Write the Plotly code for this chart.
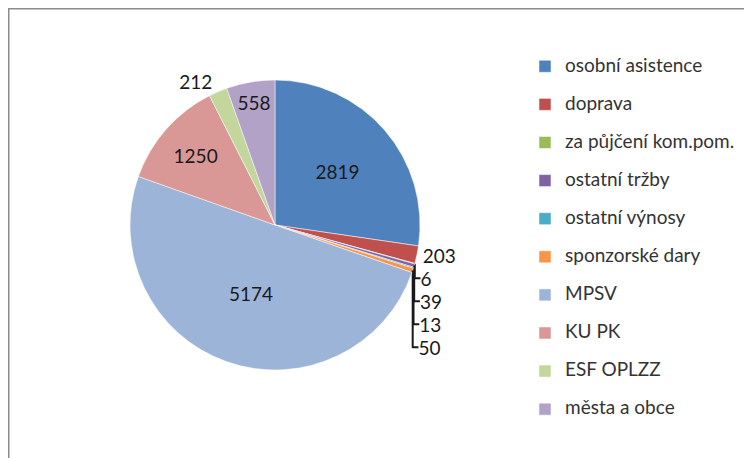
import plotly.graph_objects as go

categories = ["osobní asistence", "doprava", "za půjčení kom.pom.", "ostatní tržby",
              "ostatní výnosy", "sponzorské dary", "MPSV", "KU PK", "ESF OPLZZ", "města a obce"]
values = [2819, 203, 6, 39, 13, 50, 5174, 1250, 212, 558]
colors = ["#4F81BD", "#C0504D", "#9BBB59", "#8064A2", "#4BACC6", "#F79646",
          "#9DB4D9", "#D99796", "#C3D69B", "#B3A2C7"]
text_pos = ["inside", "outside", "outside", "outside", "outside", "outside",
            "inside", "inside", "outside", "inside"]

# legend entries: larger first line, empty second line sets the row spacing
legend_labels = ["<span style='font-size:19px'>" + c + "</span><br> " for c in categories]

# page is offset by the 8px default body margin; positions below are in figure px
W, H = 752, 458
cx, cy, r = 267, 217, 145

fig = go.Figure(go.Pie(
    labels=legend_labels,
    values=values,
    sort=False,
    direction="clockwise",
    rotation=0,
    marker=dict(colors=colors, line=dict(color="white", width=0.5)),
    textinfo="value",
    textposition=text_pos,
    insidetextorientation="horizontal",
    textfont=dict(family="Lato, Open Sans, sans-serif", size=19, color="#1a1a1a"),
    domain=dict(x=[(cx - r) / W, (cx + r) / W], y=[(H - cy - r) / H, (H - cy + r) / H]),
    hoverinfo="value",
))

fig.update_layout(
    width=W, height=H,
    margin=dict(l=0, r=0, t=0, b=0),
    paper_bgcolor="white",
    showlegend=True,
    legend=dict(
        x=517 / W, y=1 - 43 / H, xanchor="left", yanchor="top",
        font=dict(family="Lato, Open Sans, sans-serif", size=13.5, color="#333333"),
        valign="top",
        traceorder="normal",
        bgcolor="rgba(0,0,0,0)",
    ),
    shapes=[dict(type="rect", xref="paper", yref="paper",
                 x0=0.5 / W, x1=1.02, y0=-0.1, y1=1 - 0.5 / H,
                 line=dict(color="#8c8c8c", width=2))],
)

fig.write_html("out.html", config={"displayModeBar": False})
